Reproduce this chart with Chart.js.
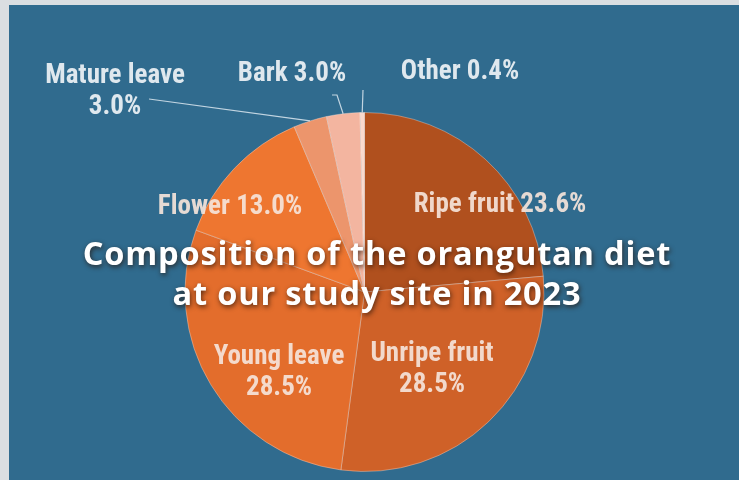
<!DOCTYPE html>
<html>
<head>
<meta charset="utf-8">
<script src="https://cdn.jsdelivr.net/npm/chart.js@4.4.1/dist/chart.umd.min.js"></script>
<style>
  html, body { margin:0; padding:0; background:#d9dde0; }
  #wrap { width:739px; height:480px; position:relative; }
</style>
</head>
<body>
<div id="wrap"><canvas id="dietChart" width="739" height="480"></canvas></div>
<script>
// diet composition, clockwise from 12 o'clock
const categories = ['Ripe fruit', 'Unripe fruit', 'Young leave', 'Flower', 'Mature leave', 'Bark', 'Other'];
const shares     = [23.6, 28.5, 28.5, 13.0, 3.0, 3.0, 0.4];
const sliceColors = ['#b0501e', '#cf6128', '#e36d2c', '#ee7630', '#ec956c', '#f3b5a0', '#f9d9cd'];
const titleLines = ['Composition of the orangutan diet', 'at our study site in 2023'];

// where each label sits (text centre), leader start for the small slices outside the pie
const labelLayout = [
    { lines:['Ripe fruit 23.6%'],          x:500, y:205, inside:true },
    { lines:['Unripe fruit', '28.5%'],     x:432, y:354, inside:true },
    { lines:['Young leave', '28.5%'],      x:279, y:357, inside:true },
    { lines:['Flower 13.0%'],              x:230, y:207, inside:true },
    { lines:['Mature leave', '3.0%'],      x:115, y:76,  leader:[[149, 99]] },
    { lines:['Bark 3.0%'],                 x:292, y:74,  leader:[[332, 95], [337, 95]] },
    { lines:['Other 0.4%'],                x:460, y:72,  leader:[[363, 90]] }
];

const LABEL_FONT = "bold 27px 'Liberation Sans Narrow', 'Roboto Condensed', Roboto, sans-serif";
const TITLE_FAMILY = "'Open Sans', Lato, sans-serif";
const TITLE_WIDTH = 590;

const backdrop = {
    id: 'backdrop',
    beforeDraw(chart) {
        const ctx = chart.ctx;
        ctx.save();
        ctx.fillStyle = '#dadee1';
        ctx.fillRect(0, 0, chart.width, chart.height);
        ctx.fillStyle = '#306b8e';
        ctx.fillRect(9, 5, chart.width - 9, chart.height - 5);
        ctx.restore();
    }
};

const sliceLabels = {
    id: 'sliceLabels',
    afterDatasetsDraw(chart) {
        const ctx  = chart.ctx;
        const arcs = chart.getDatasetMeta(0).data;
        ctx.save();
        labelLayout.forEach((lab, i) => {
            if (lab.leader) {
                const a   = arcs[i];
                const mid = (a.startAngle + a.endAngle) / 2;
                const ex  = a.x + Math.cos(mid) * a.outerRadius;
                const ey  = a.y + Math.sin(mid) * a.outerRadius;
                ctx.strokeStyle = 'rgba(220,232,240,0.85)';
                ctx.lineWidth = 1.2;
                ctx.beginPath();
                lab.leader.forEach((p, k) => k ? ctx.lineTo(p[0], p[1]) : ctx.moveTo(p[0], p[1]));
                ctx.lineTo(ex, ey);
                ctx.stroke();
            }
            ctx.font = LABEL_FONT;
            ctx.textAlign = 'center';
            ctx.textBaseline = 'middle';
            ctx.fillStyle = lab.inside ? 'rgba(245,228,218,0.92)' : '#dfe8ee';
            lab.lines.forEach((t, k) => ctx.fillText(t, lab.x, lab.y + k * 31));
        });

        // overlaid title, sized so the first line spans the same width as the original
        let size = 32;
        ctx.font = `bold ${size}px ${TITLE_FAMILY}`;
        if ('letterSpacing' in ctx) ctx.letterSpacing = '0.8px';
        size = size * TITLE_WIDTH / ctx.measureText(titleLines[0]).width;
        ctx.font = `bold ${size.toFixed(1)}px ${TITLE_FAMILY}`;
        ctx.shadowColor = 'rgba(40,20,10,0.75)';
        ctx.shadowBlur = 5;
        ctx.shadowOffsetX = 1;
        ctx.shadowOffsetY = 2;
        ctx.fillStyle = '#ffffff';
        titleLines.forEach((t, k) => ctx.fillText(t, 377, 256 + k * 40));
        ctx.restore();
    }
};

new Chart(document.getElementById('dietChart'), {
    type: 'pie',
    data: {
        labels: categories,
        datasets: [{
            data: shares,
            backgroundColor: sliceColors,
            borderColor: 'rgba(255,235,225,0.35)',
            borderWidth: 1
        }]
    },
    options: {
        responsive: false,
        animation: false,
        layout: { padding: { top:112, bottom:8, left:184, right:194 } },
        plugins: { legend:{ display:false }, tooltip:{ enabled:false } }
    },
    plugins: [backdrop, sliceLabels]
});
</script>
</body>
</html>
